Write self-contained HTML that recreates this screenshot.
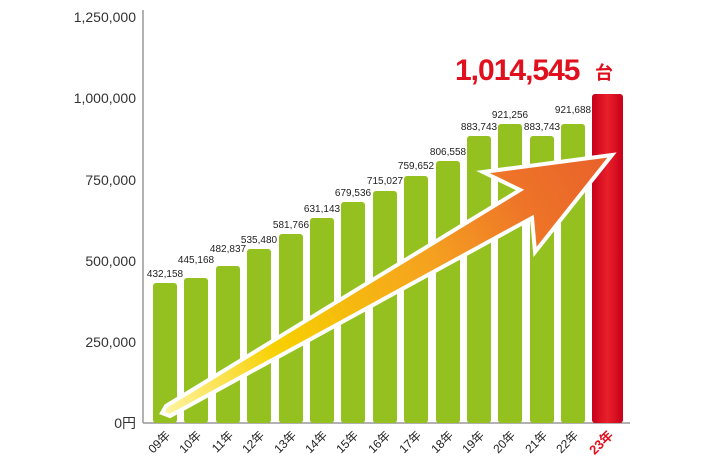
<!DOCTYPE html>
<html><head><meta charset="utf-8"><style>
html,body{margin:0;padding:0;background:#fff;width:710px;height:474px;overflow:hidden}
svg{display:block}
text{font-family:"Liberation Sans","Noto Sans CJK JP",sans-serif}
</style></head><body>
<svg width="710" height="474" viewBox="0 0 710 474" xmlns="http://www.w3.org/2000/svg">
<defs>
<linearGradient id="ag" x1="165" y1="410" x2="612" y2="155" gradientUnits="userSpaceOnUse">
<stop offset="0" stop-color="#fff3a0"/><stop offset="0.25" stop-color="#f7d000"/><stop offset="0.6" stop-color="#f5a020"/><stop offset="0.8" stop-color="#ee7428"/><stop offset="1" stop-color="#e8602a"/>
</linearGradient>
<linearGradient id="rg" x1="0" x2="1" y1="0" y2="0"><stop offset="0" stop-color="#c8001a"/><stop offset="0.5" stop-color="#e8202a"/><stop offset="1" stop-color="#c8001a"/></linearGradient>
</defs>
<g font-size="14" fill="#333" text-anchor="end">
<text x="136" y="22">1,250,000</text>
<text x="136" y="103">1,000,000</text>
<text x="136" y="185">750,000</text>
<text x="136" y="266">500,000</text>
<text x="136" y="347">250,000</text>
<text x="136" y="428">0円</text>
</g>
<line x1="143" y1="10" x2="143" y2="423" stroke="#999" stroke-width="1.5"/>
<line x1="143" y1="423" x2="630" y2="423" stroke="#999" stroke-width="1.5"/>
<g fill="#94c11f">
<rect x="153" y="283" width="24" height="140" rx="3"/>
<rect x="184" y="278" width="24" height="145" rx="3"/>
<rect x="216" y="266" width="24" height="157" rx="3"/>
<rect x="247" y="249" width="24" height="174" rx="3"/>
<rect x="279" y="234" width="24" height="189" rx="3"/>
<rect x="310" y="218" width="24" height="205" rx="3"/>
<rect x="341" y="202" width="24" height="221" rx="3"/>
<rect x="373" y="191" width="24" height="232" rx="3"/>
<rect x="404" y="176" width="24" height="247" rx="3"/>
<rect x="436" y="161" width="24" height="262" rx="3"/>
<rect x="467" y="136" width="24" height="287" rx="3"/>
<rect x="498" y="124" width="24" height="299" rx="3"/>
<rect x="530" y="136" width="24" height="287" rx="3"/>
<rect x="561" y="124" width="24" height="299" rx="3"/>
</g>
<rect x="592" y="94" width="31" height="329" rx="3" fill="url(#rg)"/>
<g font-size="10" fill="#222" text-anchor="middle">
<text x="165" y="277">432,158</text>
<text x="196" y="263">445,168</text>
<text x="228" y="252">482,837</text>
<text x="259" y="243">535,480</text>
<text x="291" y="228">581,766</text>
<text x="322" y="212">631,143</text>
<text x="353" y="196">679,536</text>
<text x="385" y="184">715,027</text>
<text x="416" y="169">759,652</text>
<text x="448" y="155">806,558</text>
<text x="479" y="130">883,743</text>
<text x="510" y="118">921,256</text>
<text x="542" y="130">883,743</text>
<text x="573" y="113">921,688</text>
</g>
<path d="M162,413 L166,406 L520,190 L483,172 L612,155 L535,252 L532,218 L170,416 Z" fill="url(#ag)" stroke="#fff" stroke-width="4" stroke-linejoin="miter"/>
<text x="455" y="80" font-size="30" font-weight="bold" fill="#e0101e" letter-spacing="-1">1,014,545</text>
<text x="604" y="79" font-size="18" font-weight="bold" fill="#e0101e" text-anchor="middle">台</text>
<g font-size="12" fill="#222" text-anchor="end">
<text transform="translate(171,436) rotate(-45)">09年</text>
<text transform="translate(202,436) rotate(-45)">10年</text>
<text transform="translate(234,436) rotate(-45)">11年</text>
<text transform="translate(265,436) rotate(-45)">12年</text>
<text transform="translate(297,436) rotate(-45)">13年</text>
<text transform="translate(328,436) rotate(-45)">14年</text>
<text transform="translate(359,436) rotate(-45)">15年</text>
<text transform="translate(391,436) rotate(-45)">16年</text>
<text transform="translate(422,436) rotate(-45)">17年</text>
<text transform="translate(454,436) rotate(-45)">18年</text>
<text transform="translate(485,436) rotate(-45)">19年</text>
<text transform="translate(516,436) rotate(-45)">20年</text>
<text transform="translate(548,436) rotate(-45)">21年</text>
<text transform="translate(579,436) rotate(-45)">22年</text>
<text transform="translate(614,436) rotate(-45)" font-weight="bold" fill="#e0101e" font-size="13">23年</text>
</g>
</svg>
</body></html>
